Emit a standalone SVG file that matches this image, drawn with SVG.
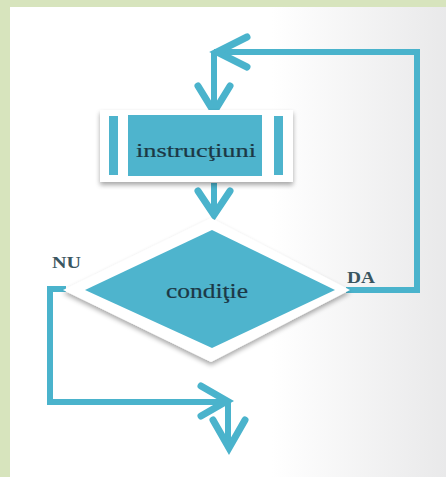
<svg xmlns="http://www.w3.org/2000/svg" width="446" height="477" viewBox="0 0 446 477">
<defs>
<linearGradient id="bg" x1="0" y1="0" x2="1" y2="0">
<stop offset="0" stop-color="#ffffff"/>
<stop offset="0.6" stop-color="#ffffff"/>
<stop offset="1" stop-color="#e9e9ea"/>
</linearGradient>
<filter id="sh" x="-20%" y="-20%" width="140%" height="150%">
<feGaussianBlur in="SourceAlpha" stdDeviation="2.5"/>
<feOffset dx="0" dy="3" result="b"/>
<feComponentTransfer><feFuncA type="linear" slope="0.35"/></feComponentTransfer>
<feMerge><feMergeNode/><feMergeNode in="SourceGraphic"/></feMerge>
</filter>
</defs>
<style>
.ln{fill:none;stroke:#4ab3cc;stroke-width:6;stroke-linecap:butt;stroke-linejoin:miter}
.hd{fill:none;stroke:#4ab3cc;stroke-width:7;stroke-linecap:round;stroke-linejoin:miter}
.fill{fill:#4eb4cd}
.t{font-family:"Liberation Serif","DejaVu Serif",serif;fill:#1c3845;stroke:#1c3845;stroke-width:0.2}
.lbl{font-family:"Liberation Serif","DejaVu Serif",serif;font-weight:bold;fill:#3a5661;font-size:16px}
</style>
<rect x="0" y="0" width="446" height="477" fill="#d7e4bd"/>
<rect x="10" y="7" width="436" height="470" fill="url(#bg)"/>
<g id="connectors">
<path class="ln" d="M214,52 L417,52 L417,290 L346,290"/>
<path class="ln" d="M214,52 L214,112"/>
<path class="hd" d="M247,37 L217,52 L247,67"/>
<path class="hd" d="M198,86 L214,112 L230,86"/>
<path class="ln" d="M214,183 L214,214"/>
<path class="hd" d="M198,191 L214,215 L230,191"/>
<path class="ln" d="M66,289 L50,289 L50,402 L226,402"/>
<path class="hd" d="M201,386 L227,401 L201,416"/>
<path class="ln" d="M228,402 L228,447"/>
<path class="hd" d="M213,420 L229,448 L245,420"/>
</g>
<g id="instructiuni">
<rect x="100" y="110" width="193" height="72" fill="#ffffff" filter="url(#sh)"/>
<rect x="109" y="116" width="9" height="59" class="fill"/>
<rect x="128" y="115" width="134" height="61" class="fill"/>
<rect x="274" y="116" width="9" height="59" class="fill"/>
<text class="t" x="196" y="157" font-size="19" text-anchor="middle" textLength="120" lengthAdjust="spacingAndGlyphs">instrucţiuni</text>
</g>
<g id="conditie">
<polygon points="211,218 350,290 211,362 63,290" fill="#ffffff" filter="url(#sh)"/>
<polygon points="212,230 335,290 212,348 85,290" class="fill"/>
<text class="t" x="207" y="298" font-size="20" text-anchor="middle" textLength="82" lengthAdjust="spacingAndGlyphs">condiţie</text>
</g>
<text class="lbl" x="52" y="268" textLength="29" lengthAdjust="spacingAndGlyphs">NU</text>
<text class="lbl" x="347" y="283" textLength="28" lengthAdjust="spacingAndGlyphs">DA</text>
</svg>
